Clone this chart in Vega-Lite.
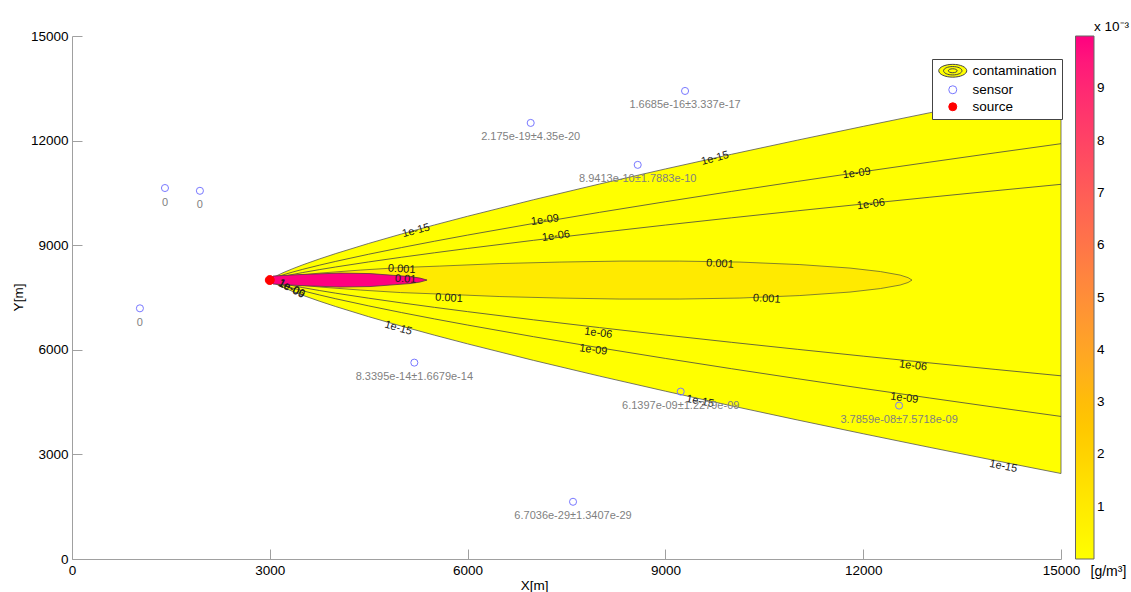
{
  "$schema": "https://vega.github.io/schema/vega-lite/v6.json",
  "width": 989,
  "height": 523,
  "autosize": {"type": "none"},
  "padding": {"left": 72, "top": 36, "right": 70, "bottom": 33},
  "background": "white",
  "title": {"text": "x 10⁻³", "anchor": "end", "align": "left", "dx": 33, "dy": 8, "offset": 4, "fontSize": 13.5, "fontWeight": "normal", "font": "Liberation Sans", "color": "#000", "frame": "group"},
  "config": {
    "font": "Liberation Sans",
    "view": {"stroke": null},
    "axis": {"grid": false, "labelFontSize": 13.5, "labelColor": "#000", "domainColor": "#a0a0a0", "tickColor": "#a0a0a0", "tickSize": -10, "labelPadding": 14, "titleFontSize": 13.5, "titleFontWeight": "normal", "titleColor": "#000", "labelFlush": false, "format": "d"}
  },
  "datasets": {
    "plume": [
      {"x": 3000, "lo": 8000, "hi": 8000, "lo9": 8000, "hi9": 8000, "lo6": 8000, "hi6": 8000},
      {"x": 3050, "lo": 7931, "hi": 8069, "lo9": 7951, "hi9": 8049, "lo6": 7966, "hi6": 8034},
      {"x": 3100, "lo": 7880, "hi": 8120, "lo9": 7915, "hi9": 8085, "lo6": 7940, "hi6": 8060},
      {"x": 3200, "lo": 7790, "hi": 8210, "lo9": 7852, "hi9": 8148, "lo6": 7896, "hi6": 8104},
      {"x": 3350, "lo": 7672, "hi": 8328, "lo9": 7769, "hi9": 8231, "lo6": 7838, "hi6": 8162},
      {"x": 3500, "lo": 7563, "hi": 8437, "lo9": 7692, "hi9": 8308, "lo6": 7784, "hi6": 8216},
      {"x": 3750, "lo": 7396, "hi": 8604, "lo9": 7574, "hi9": 8426, "lo6": 7701, "hi6": 8299},
      {"x": 4000, "lo": 7240, "hi": 8760, "lo9": 7464, "hi9": 8536, "lo6": 7624, "hi6": 8376},
      {"x": 4500, "lo": 6949, "hi": 9051, "lo9": 7259, "hi9": 8741, "lo6": 7480, "hi6": 8520},
      {"x": 5000, "lo": 6677, "hi": 9323, "lo9": 7067, "hi9": 8933, "lo6": 7345, "hi6": 8655},
      {"x": 5500, "lo": 6418, "hi": 9582, "lo9": 6885, "hi9": 9115, "lo6": 7217, "hi6": 8783},
      {"x": 6000, "lo": 6170, "hi": 9830, "lo9": 6710, "hi9": 9290, "lo6": 7094, "hi6": 8906},
      {"x": 7000, "lo": 5696, "hi": 10304, "lo9": 6376, "hi9": 9624, "lo6": 6860, "hi6": 9140},
      {"x": 8000, "lo": 5246, "hi": 10754, "lo9": 6058, "hi9": 9942, "lo6": 6637, "hi6": 9363},
      {"x": 9000, "lo": 4813, "hi": 11187, "lo9": 5753, "hi9": 10247, "lo6": 6422, "hi6": 9578},
      {"x": 10000, "lo": 4394, "hi": 11606, "lo9": 5458, "hi9": 10542, "lo6": 6215, "hi6": 9785},
      {"x": 11000, "lo": 3988, "hi": 12012, "lo9": 5172, "hi9": 10828, "lo6": 6014, "hi6": 9986},
      {"x": 12000, "lo": 3592, "hi": 12408, "lo9": 4892, "hi9": 11108, "lo6": 5818, "hi6": 10182},
      {"x": 13000, "lo": 3205, "hi": 12795, "lo9": 4620, "hi9": 11380, "lo6": 5626, "hi6": 10374},
      {"x": 14000, "lo": 2825, "hi": 13175, "lo9": 4352, "hi9": 11648, "lo6": 5438, "hi6": 10562},
      {"x": 15000, "lo": 2452, "hi": 13548, "lo9": 4089, "hi9": 11911, "lo6": 5254, "hi6": 10746}
    ],
    "ell3": [
      {"x": 3000, "lo": 8000, "hi": 8000},
      {"x": 3300, "lo": 7885, "hi": 8115},
      {"x": 3760, "lo": 7800, "hi": 8200},
      {"x": 4370, "lo": 7714, "hi": 8286},
      {"x": 4980, "lo": 7642, "hi": 8358},
      {"x": 5580, "lo": 7599, "hi": 8401},
      {"x": 6490, "lo": 7527, "hi": 8473},
      {"x": 7400, "lo": 7484, "hi": 8516},
      {"x": 8310, "lo": 7456, "hi": 8544},
      {"x": 9220, "lo": 7456, "hi": 8544},
      {"x": 10130, "lo": 7484, "hi": 8516},
      {"x": 11040, "lo": 7556, "hi": 8444},
      {"x": 11800, "lo": 7656, "hi": 8344},
      {"x": 12260, "lo": 7756, "hi": 8244},
      {"x": 12560, "lo": 7857, "hi": 8143},
      {"x": 12680, "lo": 7930, "hi": 8070},
      {"x": 12740, "lo": 8000, "hi": 8000}
    ],
    "ell2": [
      {"x": 3000, "lo": 8000, "hi": 8000},
      {"x": 3049, "lo": 7885, "hi": 8115},
      {"x": 3458, "lo": 7842, "hi": 8158},
      {"x": 4065, "lo": 7800, "hi": 8200},
      {"x": 4520, "lo": 7814, "hi": 8186},
      {"x": 4823, "lo": 7857, "hi": 8143},
      {"x": 5127, "lo": 7900, "hi": 8100},
      {"x": 5278, "lo": 7943, "hi": 8057},
      {"x": 5385, "lo": 8000, "hi": 8000}
    ],
    "sensors": [
      {"x": 1410, "y": 10640, "type": "sensor", "label": "0"},
      {"x": 1940, "y": 10560, "type": "sensor", "label": "0"},
      {"x": 1030, "y": 7190, "type": "sensor", "label": "0"},
      {"x": 6957, "y": 12507, "type": "sensor", "label": "2.175e-19±4.35e-20"},
      {"x": 9298, "y": 13424, "type": "sensor", "label": "1.6685e-16±3.337e-17"},
      {"x": 8580, "y": 11304, "type": "sensor", "label": "8.9413e-10±1.7883e-10"},
      {"x": 5192, "y": 5632, "type": "sensor", "label": "8.3395e-14±1.6679e-14"},
      {"x": 9232, "y": 4801, "type": "sensor", "label": "6.1397e-09±1.2279e-09"},
      {"x": 12544, "y": 4400, "type": "sensor", "label": "3.7859e-08±7.5718e-09"},
      {"x": 7599, "y": 1641, "type": "sensor", "label": "6.7036e-29±1.3407e-29"}
    ],
    "source": [
      {"x": 3000, "y": 8000, "type": "source"}
    ]
  },
  "layer": [
    {
      "data": {"name": "plume"},
      "mark": {"type": "area", "stroke": "#555555", "strokeWidth": 0.8, "opacity": 1},
      "encoding": {
        "x": {"field": "x", "type": "quantitative", "scale": {"domain": [0, 15000], "nice": false, "zero": false},
              "axis": {"values": [0, 3000, 6000, 9000, 12000, 15000], "title": "X[m]", "titleX": 462, "titleY": 26, "titleBaseline": "middle"}},
        "y": {"field": "hi", "type": "quantitative", "scale": {"domain": [0, 15000], "nice": false, "zero": false},
              "axis": {"values": [0, 3000, 6000, 9000, 12000, 15000], "title": "Y[m]", "titleX": -54, "titleY": 261, "titleBaseline": "middle"}},
        "y2": {"field": "lo"},
        "color": {"datum": 1e-15, "type": "quantitative",
                  "scale": {"domain": [0, 0.01], "range": ["#FFFF00", "#FF0080"]},
                  "legend": {"orient": "none", "legendX": 1003.5, "legendY": 0, "direction": "vertical", "gradientLength": 523, "gradientThickness": 18.5,
                             "values": [0.001, 0.002, 0.003, 0.004, 0.005, 0.006, 0.007, 0.008, 0.009],
                             "labelExpr": "format(datum.value*1000, 'd')", "labelFontSize": 13.5, "labelOffset": 3, "labelOverlap": false, "labelColor": "#000",
                             "title": "[g/m³]", "titleOrient": "bottom", "titleAnchor": "middle", "titleAlign": "left", "titleFontSize": 14, "titleFontWeight": "normal", "titlePadding": 5, "titleColor": "#000",
                             "gradientStrokeColor": "#666666", "gradientStrokeWidth": 1}}
      }
    },
    {
      "data": {"name": "plume"},
      "mark": {"type": "line", "stroke": "#444444", "strokeWidth": 0.8},
      "encoding": {"x": {"field": "x", "type": "quantitative"}, "y": {"field": "hi9", "type": "quantitative"}}
    },
    {
      "data": {"name": "plume"},
      "mark": {"type": "line", "stroke": "#444444", "strokeWidth": 0.8},
      "encoding": {"x": {"field": "x", "type": "quantitative"}, "y": {"field": "lo9", "type": "quantitative"}}
    },
    {
      "data": {"name": "plume"},
      "mark": {"type": "line", "stroke": "#444444", "strokeWidth": 0.8},
      "encoding": {"x": {"field": "x", "type": "quantitative"}, "y": {"field": "hi6", "type": "quantitative"}}
    },
    {
      "data": {"name": "plume"},
      "mark": {"type": "line", "stroke": "#444444", "strokeWidth": 0.8},
      "encoding": {"x": {"field": "x", "type": "quantitative"}, "y": {"field": "lo6", "type": "quantitative"}}
    },
    {
      "data": {"name": "ell3"},
      "mark": {"type": "area", "stroke": "#666633", "strokeWidth": 0.8, "opacity": 1},
      "encoding": {"x": {"field": "x", "type": "quantitative"}, "y": {"field": "hi", "type": "quantitative"}, "y2": {"field": "lo"},
                   "color": {"datum": 0.001, "type": "quantitative"}}
    },
    {
      "data": {"name": "ell2"},
      "mark": {"type": "area", "stroke": "#553344", "strokeWidth": 0.8, "opacity": 1},
      "encoding": {"x": {"field": "x", "type": "quantitative"}, "y": {"field": "hi", "type": "quantitative"}, "y2": {"field": "lo"},
                   "color": {"datum": 0.01, "type": "quantitative"}}
    },
    {
      "data": {"values": [{"x": 5218, "y": 9412, "label": "1e-15"}, {"x": 9753, "y": 11487, "label": "1e-15"}]},
      "mark": {"type": "text", "angle": -15, "fontSize": 11, "color": "#1a1a1a"},
      "encoding": {"x": {"field": "x", "type": "quantitative"}, "y": {"field": "y", "type": "quantitative"}, "text": {"field": "label"}}
    },
    {
      "data": {"values": [{"x": 7174, "y": 9720, "label": "1e-09"}, {"x": 11902, "y": 11058, "label": "1e-09"}, {"x": 7341, "y": 9262, "label": "1e-06"}, {"x": 12119, "y": 10170, "label": "1e-06"}]},
      "mark": {"type": "text", "angle": -8, "fontSize": 11, "color": "#1a1a1a"},
      "encoding": {"x": {"field": "x", "type": "quantitative"}, "y": {"field": "y", "type": "quantitative"}, "text": {"field": "label"}}
    },
    {
      "data": {"values": [{"x": 4949, "y": 6618, "label": "1e-15"}]},
      "mark": {"type": "text", "angle": 16, "fontSize": 11, "color": "#1a1a1a"},
      "encoding": {"x": {"field": "x", "type": "quantitative"}, "y": {"field": "y", "type": "quantitative"}, "text": {"field": "label"}}
    },
    {
      "data": {"values": [{"x": 9525, "y": 4515, "label": "1e-15"}, {"x": 14126, "y": 2653, "label": "1e-15"}]},
      "mark": {"type": "text", "angle": 11, "fontSize": 11, "color": "#1a1a1a"},
      "encoding": {"x": {"field": "x", "type": "quantitative"}, "y": {"field": "y", "type": "quantitative"}, "text": {"field": "label"}}
    },
    {
      "data": {"values": [{"x": 7983, "y": 6474, "label": "1e-06"}, {"x": 7907, "y": 5996, "label": "1e-09"}, {"x": 12756, "y": 5539, "label": "1e-06"}, {"x": 12624, "y": 4612, "label": "1e-09"}]},
      "mark": {"type": "text", "angle": 7, "fontSize": 11, "color": "#1a1a1a"},
      "encoding": {"x": {"field": "x", "type": "quantitative"}, "y": {"field": "y", "type": "quantitative"}, "text": {"field": "label"}}
    },
    {
      "data": {"values": [{"x": 3330, "y": 7760, "label": "1e-06"}, {"x": 3330, "y": 7740, "label": "1e-09"}]},
      "mark": {"type": "text", "angle": 27, "fontSize": 11, "color": "#1a1a1a"},
      "encoding": {"x": {"field": "x", "type": "quantitative"}, "y": {"field": "y", "type": "quantitative"}, "text": {"field": "label"}}
    },
    {
      "data": {"values": [{"x": 5000, "y": 8308, "label": "0.001"}, {"x": 5061, "y": 8021, "label": "0.01"}, {"x": 5718, "y": 7477, "label": "0.001"}, {"x": 9828, "y": 8460, "label": "0.001"}, {"x": 10537, "y": 7457, "label": "0.001"}]},
      "mark": {"type": "text", "angle": 3, "fontSize": 11, "color": "#1a1a1a"},
      "encoding": {"x": {"field": "x", "type": "quantitative"}, "y": {"field": "y", "type": "quantitative"}, "text": {"field": "label"}}
    },
    {
      "data": {"name": "sensors"},
      "mark": {"type": "text", "fontSize": 11, "color": "#7f7f7f", "dy": 14.5, "baseline": "middle"},
      "encoding": {"x": {"field": "x", "type": "quantitative"}, "y": {"field": "y", "type": "quantitative"}, "text": {"field": "label"}}
    },
    {
      "data": {"name": "sensors"},
      "mark": {"type": "point", "size": 50, "strokeWidth": 1, "opacity": 1},
      "encoding": {
        "x": {"field": "x", "type": "quantitative"},
        "y": {"field": "y", "type": "quantitative"},
        "fill": {"field": "type", "type": "nominal", "scale": {"domain": ["contamination", "sensor", "source"], "range": ["#FFFF00", "transparent", "#FF0000"]},
                 "legend": {"title": null, "orient": "none", "legendX": 860, "legendY": 23, "padding": 5, "symbolOffset": 9, "symbolSize": 64, "labelOffset": 13, "rowPadding": 2, "labelFontSize": 13.5, "labelColor": "#000", "strokeColor": "#444444", "fillColor": "white", "symbolStrokeWidth": 1}},
        "stroke": {"field": "type", "type": "nominal", "scale": {"domain": ["contamination", "sensor", "source"], "range": ["#444444", "#7878FF", "#FF0000"]},
                 "legend": {"title": null, "orient": "none", "legendX": 860, "legendY": 23, "padding": 5, "symbolOffset": 9, "symbolSize": 64, "labelOffset": 13, "rowPadding": 2, "labelFontSize": 13.5, "labelColor": "#000", "strokeColor": "#444444", "fillColor": "white", "symbolStrokeWidth": 1}},
        "shape": {"field": "type", "type": "nominal", "scale": {"domain": ["contamination", "sensor", "source"], "range": ["M-3.5,0A3.5,1.6 0 1,1 3.5,0A3.5,1.6 0 1,1 -3.5,0ZM-2.3,0A2.3,1.05 0 1,1 2.3,0A2.3,1.05 0 1,1 -2.3,0ZM-1.1,0A1.1,0.5 0 1,1 1.1,0A1.1,0.5 0 1,1 -1.1,0Z", "circle", "circle"]},
                 "legend": {"title": null, "orient": "none", "legendX": 860, "legendY": 23, "padding": 5, "symbolOffset": 9, "symbolSize": 64, "labelOffset": 13, "rowPadding": 2, "labelFontSize": 13.5, "labelColor": "#000", "strokeColor": "#444444", "fillColor": "white", "symbolStrokeWidth": 1}}
      }
    },
    {
      "data": {"name": "source"},
      "mark": {"type": "point", "size": 80, "strokeWidth": 1, "opacity": 1},
      "encoding": {
        "x": {"field": "x", "type": "quantitative"},
        "y": {"field": "y", "type": "quantitative"},
        "fill": {"field": "type", "type": "nominal"},
        "stroke": {"field": "type", "type": "nominal"},
        "shape": {"field": "type", "type": "nominal"}
      }
    }
  ]
}
